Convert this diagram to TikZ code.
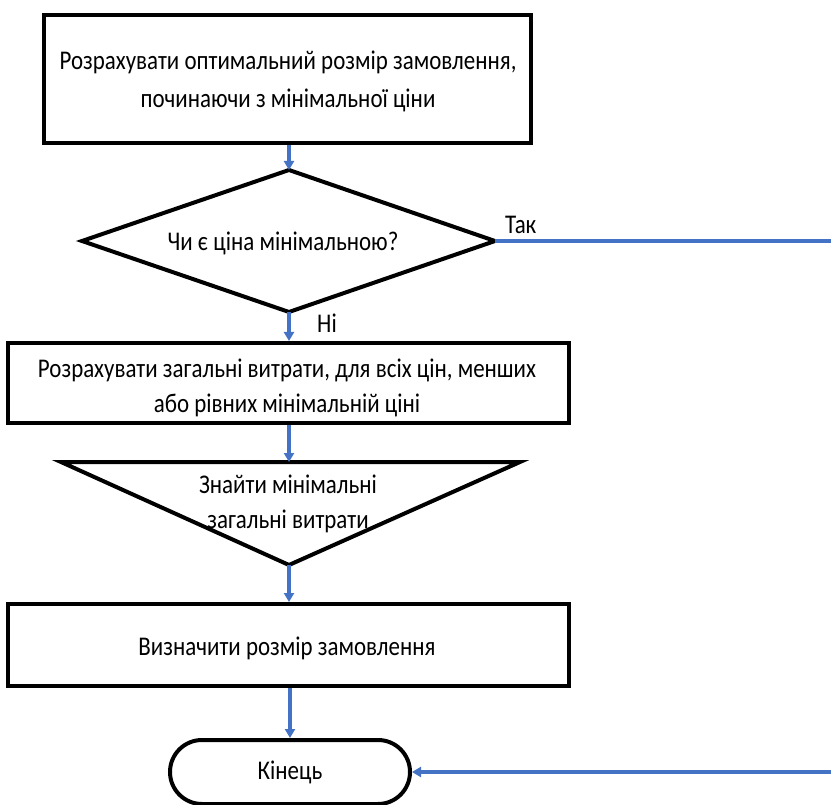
\documentclass[tikz,border=0pt]{standalone}
\usepackage{fontspec}
\setmainfont{Carlito}[FakeStretch=0.85]
\usetikzlibrary{shapes.misc,arrows.meta}
\definecolor{flowblue}{HTML}{4472C4}
\tikzset{
  box/.style={draw=black,line width=4pt,rectangle,inner sep=0pt},
  term/.style={draw=black,line width=4pt,rounded rectangle,inner sep=0pt,align=center,
              font=\fontsize{27}{37}\selectfont},
  outline/.style={draw=black,line width=4pt,line join=miter},
  txt/.style={inner sep=0pt,align=center,font=\fontsize{27}{35}\selectfont},
  widetxt/.style={txt,font=\fontsize{27}{38}\selectfont},
  flow/.style={draw=flowblue,line width=3.5pt,-{Triangle[width=10pt,length=9pt]}},
  flowline/.style={draw=flowblue,line width=3.5pt},
}
\begin{document}
\begin{tikzpicture}[x=1pt,y=-1pt]
\useasboundingbox (0,0) rectangle (831,805);

% first process block
\node[box,minimum width=487pt,minimum height=128pt] (calc) at (287.5,79) {};
\node[widetxt] (calctxt) at (288,81)
  {Розрахувати оптимальний розмір замовлення,\\починаючи з мінімальної ціни};

% decision diamond
\coordinate (dtop) at (289,170);
\coordinate (dleft) at (82,241);
\coordinate (dright) at (495,241);
\coordinate (dbot) at (289,312);
\draw[outline] (dtop) -- (dright) -- (dbot) -- (dleft) -- cycle;
\node[txt] (ismin) at (283,243) {Чи є ціна мінімальною?};

% second process block
\node[box,minimum width=561pt,minimum height=80pt] (total) at (288.5,383) {};
\node[txt] (totaltxt) at (287,388)
  {Розрахувати загальні витрати, для всіх цін, менших\\або рівних мінімальній ціні};

% inverted triangle
\coordinate (tritop) at (289,462);
\coordinate (triapex) at (289,565);
\draw[outline] (61,462) -- (520,462) -- (triapex) -- cycle;
\node[txt] (findmin) at (288,504) {Знайти мінімальні\\загальні витрати};

% third process block
\node[box,minimum width=561pt,minimum height=82pt] (size) at (288.5,645) {};
\node[txt] (sizetxt) at (287,648) {Визначити розмір замовлення};

% terminal
\node[term,minimum width=240pt,minimum height=64pt] (stop) at (290,772) {Кінець};

% connectors
\draw[flow] (calc.south -| dtop) -- (dtop);
\draw[flow] (dbot) -- (dbot |- total.north);
\draw[flow] (total.south -| tritop) -- (tritop);
\draw[flow] (triapex) -- (triapex |- size.north);
\draw[flow] (size.south -| stop.north) -- (stop.north);

% "yes" branch runs out to the right and returns to the terminal
\coordinate (outtop) at (836,241);
\coordinate (outbot) at (836,772);
\draw[flowline] (dright) -- (outtop) -- (outbot);
\draw[flow] (outbot) -- (stop.east);

% branch labels
\node[txt,anchor=south west] (yes) at (505,234) {Так};
\node[txt,anchor=west] (no) at (317,323) {Ні};
\end{tikzpicture}
\end{document}
